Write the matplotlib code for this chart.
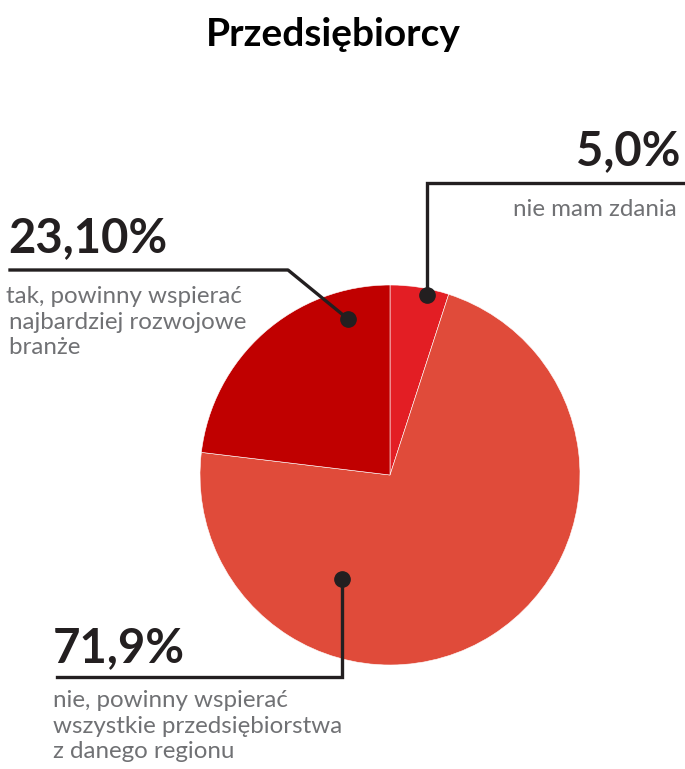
import matplotlib.pyplot as plt

plt.rcParams['font.family'] = ['Lato', 'DejaVu Sans']

# shares, in the order drawn clockwise from 12 o'clock
shares = [5.0, 71.9, 23.1]
value_labels = ["5,0%", "71,9%", "23,10%"]
answers = [
    "nie mam zdania",
    "nie, powinny wspierać\nwszystkie przedsiębiorstwa\nz danego regionu",
    "tak, powinny wspierać\n\u2009najbardziej rozwojowe\n\u2009branże",
]
colors = ["#e31e24", "#e04b3a", "#c00000"]

W, H = 685, 769
fig = plt.figure(figsize=(W / 100, H / 100), dpi=100)
ax = fig.add_axes([0, 0, 1, 1])
ax.set_xlim(0, W)
ax.set_ylim(0, H)
ax.axis("off")

def Y(y):
    # pixel row measured from the top
    return H - y

ax.pie(shares, colors=colors, startangle=90, counterclock=False,
       center=(390, Y(475)), radius=190,
       wedgeprops=dict(edgecolor="white", linewidth=0.4))
ax.set_xlim(0, W)
ax.set_ylim(0, H)
ax.set_aspect("equal")

fig.text(333 / W, 1 - 35 / H, "Przedsiębiorcy", ha="center", va="center",
         fontsize=28, fontweight="bold", color="black")

ink = "#231f20"
grey = "#707174"
lw = 2.4
small = 17.4
spacing = 1.27

# 5,0%
ax.plot([427, 427, W], [Y(295), Y(183), Y(183)], color=ink, lw=lw,
        solid_joinstyle="miter")
ax.plot(427, Y(295), "o", color=ink, ms=11)
ax.text(681, Y(165), value_labels[0], ha="right", va="baseline",
        fontsize=34, fontweight="bold", color=ink)
ax.text(677, Y(210), answers[0], ha="right", va="center",
        fontsize=small, color=grey)

# 23,10%
ax.plot([348, 288, 10], [Y(319), Y(270), Y(270)], color=ink, lw=lw)
ax.plot(348, Y(319), "o", color=ink, ms=11)
ax.text(8, Y(252), value_labels[2], ha="left", va="baseline",
        fontsize=34, fontweight="bold", color=ink)
ax.text(6, Y(286), answers[2], ha="left", va="top",
        fontsize=small, color=grey, linespacing=spacing)

# 71,9%
ax.plot([342, 342, 57], [Y(579), Y(677), Y(677)], color=ink, lw=lw,
        solid_joinstyle="miter")
ax.plot(342, Y(579), "o", color=ink, ms=11)
ax.text(53, Y(662), value_labels[1], ha="left", va="baseline",
        fontsize=34, fontweight="bold", color=ink)
ax.text(53, Y(690), answers[1], ha="left", va="top",
        fontsize=small, color=grey, linespacing=spacing)

fig.savefig("out.png", dpi=100)
